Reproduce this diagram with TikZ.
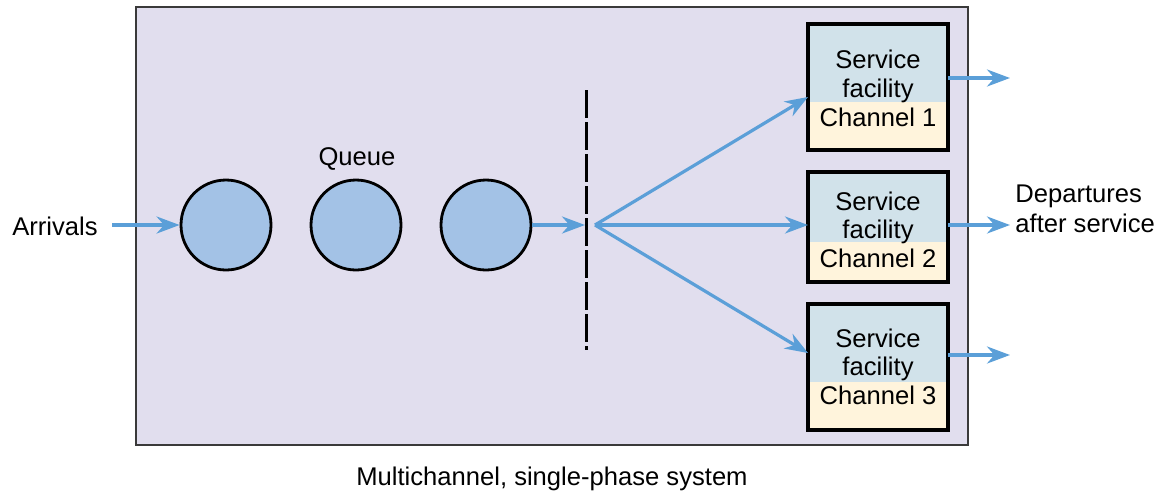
\documentclass[tikz,border=0pt]{standalone}
\usepackage{fontspec}
\setmainfont{Liberation Sans}
\usetikzlibrary{arrows.meta}
\definecolor{SysLilac}{HTML}{E1DEEE}
\definecolor{SysFrame}{HTML}{3A3A3A}
\definecolor{FacBlue}{HTML}{D1E2EA}
\definecolor{ChanCream}{HTML}{FFF4DC}
\definecolor{UnitBlue}{HTML}{A3C2E6}
\definecolor{FlowBlue}{HTML}{5B9FD8}
\tikzstyle{none}=[inner sep=0pt]
\tikzstyle{txt}=[inner sep=0pt,anchor=base,font=\fontsize{12.8}{15}\selectfont]
\tikzstyle{flow}=[-{Stealth[length=11.5pt,width=8.5pt]},draw=FlowBlue,line width=1.6pt]
\tikzstyle{unit}=[circle,draw=black,fill=UnitBlue,line width=1.4pt,minimum size=45pt,inner sep=0pt]
\tikzstyle{frame}=[draw=black,line width=2pt]

\begin{document}
\begin{tikzpicture}[x=0.5pt,y=-0.5pt]
  \useasboundingbox (0,0) rectangle (1164,495);
  % system box
  \node [style=none] (0) at (136, 7) {};
  \node [style=none] (1) at (968, 445) {};
  \filldraw [fill=SysLilac,draw=SysFrame,line width=1.1pt] (0.center) rectangle (1.center);
  % queue
  \node [style=unit] (2) at (226, 225) {};
  \node [style=unit] (3) at (356, 225) {};
  \node [style=unit] (4) at (486, 225) {};
  \node [style=txt] (5) at (357, 165) {Queue};
  \node [style=txt] (6) at (55, 235) {Arrivals};
  \node [style=none] (7) at (112, 225) {};
  % dashed split
  \node [style=none] (8) at (586, 90) {};
  \node [style=none] (9) at (586, 350) {};
  \node [style=none] (10) at (585, 225) {};
  \node [style=none] (11) at (595, 225) {};
  \draw [line width=1.5pt,dash pattern=on 14pt off 2pt] (8.center) to (9.center);
  % service facilities
  \node [style=none] (12) at (808, 24) {};
  \node [style=none] (13) at (948, 102) {};
  \node [style=none] (14) at (808, 150) {};
  \node [style=none] (15) at (808, 172) {};
  \node [style=none] (16) at (948, 242) {};
  \node [style=none] (17) at (808, 282) {};
  \node [style=none] (18) at (808, 304) {};
  \node [style=none] (19) at (948, 382) {};
  \node [style=none] (20) at (808, 430) {};
  \fill [FacBlue] (12.center) rectangle (13.center);
  \fill [ChanCream] (13.center) rectangle (14.center);
  \fill [FacBlue] (15.center) rectangle (16.center);
  \fill [ChanCream] (16.center) rectangle (17.center);
  \fill [FacBlue] (18.center) rectangle (19.center);
  \fill [ChanCream] (19.center) rectangle (20.center);
  \draw [style=frame] (12.center) rectangle (13.center |- 14.center);
  \draw [style=frame] (15.center) rectangle (16.center |- 17.center);
  \draw [style=frame] (18.center) rectangle (19.center |- 20.center);
  \node [style=txt] (21) at (878, 68) {Service};
  \node [style=txt] (22) at (878, 97) {facility};
  \node [style=txt] (23) at (878, 126) {Channel 1};
  \node [style=txt] (24) at (878, 210) {Service};
  \node [style=txt] (25) at (878, 238) {facility};
  \node [style=txt] (26) at (878, 267) {Channel 2};
  \node [style=txt] (27) at (878, 347) {Service};
  \node [style=txt] (28) at (878, 375) {facility};
  \node [style=txt] (29) at (878, 404) {Channel 3};
  % entry points and exits
  \node [style=none] (30) at (808, 97) {};
  \node [style=none] (31) at (808, 225) {};
  \node [style=none] (32) at (808, 353) {};
  \node [style=none] (33) at (948, 78) {};
  \node [style=none] (34) at (1010, 78) {};
  \node [style=none] (35) at (948, 225) {};
  \node [style=none] (36) at (1010, 225) {};
  \node [style=none] (37) at (948, 355) {};
  \node [style=none] (38) at (1010, 355) {};
  \node [style=txt,anchor=base west] (39) at (1015, 202) {Departures};
  \node [style=txt,anchor=base west] (40) at (1015, 232) {after service};
  \node [style=txt] (41) at (552, 485) {Multichannel, single-phase system};
  \draw [style=flow] (7.center) to (2.west);
  \draw [style=flow] (4.east) to (10.center);
  \draw [style=flow] (11.center) to (30.center);
  \draw [style=flow] (11.center) to (31.center);
  \draw [style=flow] (11.center) to (32.center);
  \draw [style=flow] (33.center) to (34.center);
  \draw [style=flow] (35.center) to (36.center);
  \draw [style=flow] (37.center) to (38.center);
\end{tikzpicture}
\end{document}
